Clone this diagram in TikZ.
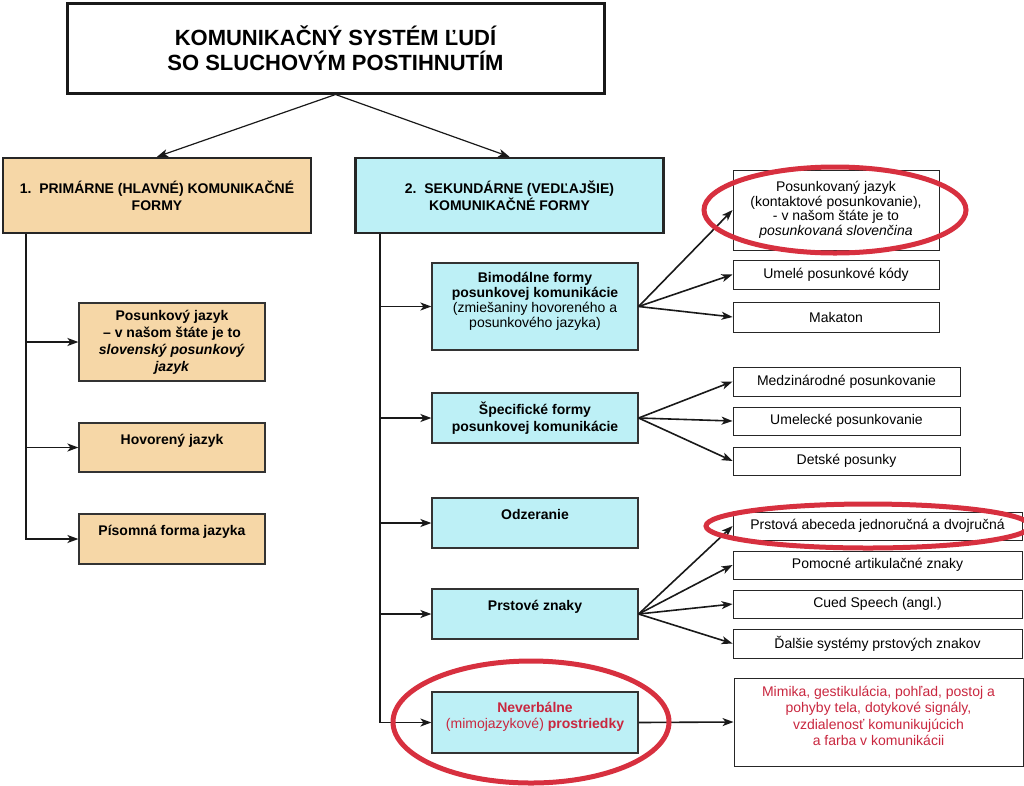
\documentclass[tikz,border=0pt]{standalone}
\usepackage{fontspec}
\setmainfont{Liberation Sans}
\usepackage{xcolor}
\usetikzlibrary{arrows.meta}
\definecolor{PiesokBox}{HTML}{F6D7A7}
\definecolor{TyrkysBox}{HTML}{BDF0F6}
\definecolor{KruhCervena}{HTML}{D7303F}
\definecolor{TextCervena}{HTML}{C9273F}

\begin{document}
\begin{tikzpicture}[x=1pt, y=-1pt,
    >={Stealth[length=11pt, width=8pt, inset=3pt]},
    titul/.style={draw=black!90, line width=3pt, align=center,
      minimum width=537pt, minimum height=90pt,
      font=\fontsize{22}{25}\selectfont\bfseries},
    skupina/.style={draw=black!85, line width=2.5pt, align=center,
      minimum width=308pt, minimum height=75pt, inner sep=0pt,
      font=\fontsize{14}{17}\selectfont\bfseries},
    forma/.style={draw=black!80, line width=1.2pt, align=center,
      inner sep=0pt, font=\fontsize{14}{17}\selectfont\bfseries},
    polozka/.style={draw=black!85, line width=.9pt, align=center,
      inner sep=0pt, font=\fontsize{14}{14.5}\selectfont},
    spoj/.style={->, line width=1.6pt, draw=black!90},
    kruh/.style={line width=5pt, draw=KruhCervena}]

  \useasboundingbox (0,0) rectangle (1024,785);

  % hlavny nadpis a dve skupiny
  \node[titul] (titul) at (335.5,48)
    {KOMUNIKAČNÝ SYSTÉM ĽUDÍ\\SO SLUCHOVÝM POSTIHNUTÍM};
  \node[skupina, fill=PiesokBox] (prim) at (157,195.5)
    {1.\ \ PRIMÁRNE (HLAVNÉ) KOMUNIKAČNÉ\\FORMY};
  \node[skupina, fill=TyrkysBox] (sek) at (509.5,195.5)
    {2.\ \ SEKUNDÁRNE (VEDĽAJŠIE)\\KOMUNIKAČNÉ FORMY};

  \draw[spoj, line width=1.2pt] (titul.south) -- (prim.north);
  \draw[spoj, line width=1.2pt] (titul.south) -- (sek.north);

  % primarne formy
  \node[forma, fill=PiesokBox, minimum width=186pt, minimum height=78pt] (posj) at (172,342)
    {Posunkový jazyk\\– v našom štáte je to\\\textit{slovenský posunkový}\\\textit{jazyk}};
  \node[forma, fill=PiesokBox, minimum width=186pt, minimum height=49pt] (hovj) at (172,447.5)
    {Hovorený jazyk\\\mbox{}};
  \node[forma, fill=PiesokBox, minimum width=186pt, minimum height=50pt] (pisj) at (172,539)
    {Písomná forma jazyka\\\mbox{}};

  \draw[spoj] ([xshift=24pt]prim.south west) |- (posj.west);
  \draw[spoj] ([xshift=24pt]prim.south west) |- (hovj.west);
  \draw[spoj] ([xshift=24pt]prim.south west) |- (pisj.west);

  % sekundarne formy
  \node[forma, fill=TyrkysBox, minimum width=206pt, minimum height=87pt,
    font=\fontsize{14}{15}\selectfont] (bimod) at (535,306.5)
    {\textbf{Bimodálne formy}\\\textbf{posunkovej komunikácie}\\(zmiešaniny hovoreného a\\posunkového jazyka)\\[-2pt]\mbox{}};
  \node[forma, fill=TyrkysBox, minimum width=206pt, minimum height=50pt] (spec) at (535,418)
    {Špecifické formy\\posunkovej komunikácie};
  \node[forma, fill=TyrkysBox, minimum width=206pt, minimum height=50pt] (odz) at (535,523)
    {Odzeranie\\\mbox{}};
  \node[forma, fill=TyrkysBox, minimum width=206pt, minimum height=50pt] (prst) at (535,614)
    {Prstové znaky\\\mbox{}};
  \node[forma, fill=TyrkysBox, minimum width=206pt, minimum height=61pt,
    text=TextCervena, font=\fontsize{14}{16}\selectfont] (never) at (535,722.5)
    {\textbf{Neverbálne}\\(mimojazykové) \textbf{prostriedky}\\[-2pt]\mbox{}};

  \draw[spoj] ([xshift=26pt]sek.south west) |- (bimod.west);
  \draw[spoj] ([xshift=26pt]sek.south west) |- (spec.west);
  \draw[spoj] ([xshift=26pt]sek.south west) |- (odz.west);
  \draw[spoj] ([xshift=26pt]sek.south west) |- (prst.west);
  \draw[spoj] ([xshift=26pt]sek.south west) |- (never.west);

  % bimodalne formy
  \node[polozka, minimum width=206pt, minimum height=80pt] (posjaz) at (836,210)
    {Posunkovaný jazyk\\(kontaktové posunkovanie),\\- v našom štáte je to\\\textit{posunkovaná slovenčina}};
  \node[polozka, minimum width=206pt, minimum height=29pt] (umkody) at (836,274.5)
    {Umelé posunkové kódy};
  \node[polozka, minimum width=206pt, minimum height=30pt] (makaton) at (836,317)
    {Makaton};

  \draw[spoj] (bimod.east) -- (posjaz.west);
  \draw[spoj] (bimod.east) -- (umkody.west);
  \draw[spoj] (bimod.east) -- (makaton.west);

  % specificke formy
  \node[polozka, minimum width=227pt, minimum height=29pt] (medz) at (846.5,381.5)
    {Medzinárodné posunkovanie};
  \node[polozka, minimum width=227pt, minimum height=28pt] (umel) at (846.5,421)
    {Umelecké posunkovanie};
  \node[polozka, minimum width=227pt, minimum height=28pt] (detske) at (846.5,461)
    {Detské posunky};

  \draw[spoj] (spec.east) -- (medz.west);
  \draw[spoj] (spec.east) -- (umel.west);
  \draw[spoj] (spec.east) -- (detske.west);

  % prstove znaky
  \node[polozka, minimum width=289pt, minimum height=28pt] (abeceda) at (877.5,526)
    {Prstová abeceda jednoručná a dvojručná};
  \node[polozka, minimum width=289pt, minimum height=28pt] (pomocne) at (877.5,565)
    {Pomocné artikulačné znaky};
  \node[polozka, minimum width=289pt, minimum height=28pt] (cued) at (877.5,604)
    {Cued Speech (angl.)};
  \node[polozka, minimum width=289pt, minimum height=29pt] (dalsie) at (877.5,643.5)
    {Ďalšie systémy prstových znakov};

  \draw[spoj] (prst.east) -- (abeceda.west);
  \draw[spoj] (prst.east) -- (pomocne.west);
  \draw[spoj] (prst.east) -- (cued.west);
  \draw[spoj] (prst.east) -- (dalsie.west);

  % neverbalne prostriedky
  \node[polozka, minimum width=289pt, minimum height=88pt, text=TextCervena,
    font=\fontsize{14}{16.3}\selectfont] (mimika) at (878.5,722)
    {Mimika, gestikulácia, pohľad, postoj a\\pohyby tela, dotykové signály,\\vzdialenosť komunikujúcich\\a farba v komunikácii\\[-4pt]\mbox{}};

  \draw[spoj] (never.east) -- (mimika.west);

  % cervene kruhy
  \draw[kruh] (835,210) ellipse [x radius=131pt, y radius=43pt];
  \draw[kruh] (868,526) ellipse [x radius=162pt, y radius=22pt];
  \draw[kruh] (531,722) ellipse [x radius=138pt, y radius=61pt];

\end{tikzpicture}
\end{document}
